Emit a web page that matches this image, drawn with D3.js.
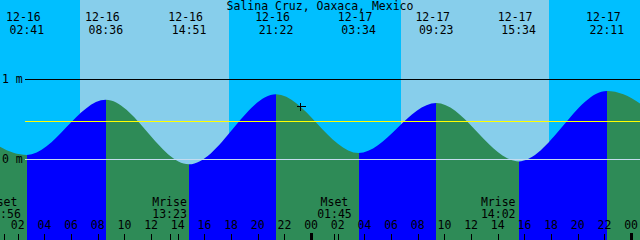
<!DOCTYPE html>
<html>
<head>
<meta charset="utf-8">
<script src="https://d3js.org/d3.v7.min.js"></script>
<style>
  html, body { margin: 0; padding: 0; background: #fff; }
  svg { display: block; }
  text { font-family: "DejaVu Sans Mono", monospace; font-size: 11.5px; fill: #000; }
  line, path.mark { shape-rendering: crispEdges; }
</style>
</head>
<body>
<svg width="640" height="240"></svg>
<script>
// chart data
var title = "Salina Cruz, Oaxaca, Mexico";
var startTime = "2019-12-16 00:40", endTime = "2019-12-18 00:40";

// high / low tides (first and last ones are just outside the window)
var tideTimes = ["2019-12-15 20:35", "2019-12-16 02:41", "2019-12-16 08:36", "2019-12-16 14:51",
                 "2019-12-16 21:22", "2019-12-17 03:34", "2019-12-17 09:23", "2019-12-17 15:34",
                 "2019-12-17 22:11", "2019-12-18 04:25"];
var tideHeights = [0.75, 0.05, 0.74, -0.066, 0.81, 0.075, 0.70, -0.03, 0.85, 0.10];

var sunTimes = ["2019-12-16 06:41", "2019-12-16 17:51", "2019-12-17 06:45", "2019-12-17 17:52"]; // rise, set, rise, set
var moonNames = ["Mset", "Mrise", "Mset", "Mrise"];
var moonTimes = ["2019-12-16 00:56", "2019-12-16 13:23", "2019-12-17 01:45", "2019-12-17 14:02"];

var levelValues = [1, 0];
var levelLabels = ["1 m", "0 m"];
var meanLevel = 0.48;

var nowTime = "2019-12-16 23:10";
var nowHeight = 0.66;

var parse = d3.timeParse("%Y-%m-%d %H:%M");
var svg = d3.select("svg");
var W = 640, H = 240;

var x = d3.scaleTime().domain([parse(startTime), parse(endTime)]).range([0, W]);
var y = d3.scaleLinear().domain([0, 1]).range([159, 79]);

var tides = tideTimes.map(function(t, i) { return { t: parse(t), h: tideHeights[i] }; });

// day / night bands
var edges = [parse(startTime)].concat(sunTimes.map(parse)).concat([parse(endTime)]);
var bands = [];
for (var i = 0; i < edges.length - 1; i++) bands.push({ a: edges[i], b: edges[i + 1], day: i % 2 == 1 });
svg.append("g").selectAll("rect").data(bands).enter().append("rect")
  .attr("x", function(d) { return x(d.a); })
  .attr("width", function(d) { return x(d.b) - x(d.a); })
  .attr("y", 0).attr("height", H)
  .attr("fill", function(d) { return d.day ? "#87ceeb" : "#00bfff"; })
  .attr("shape-rendering", "crispEdges");

// water under the curve, blue while rising, green while falling
var area = d3.area().curve(d3.curveMonotoneX)
  .x(function(d) { return x(d.t); })
  .y0(H)
  .y1(function(d) { return y(d.h); });
svg.append("clipPath").attr("id", "water").append("path").attr("d", area(tides));

var segs = [];
for (var i = 0; i < tides.length - 1; i++) segs.push({ a: tides[i].t, b: tides[i + 1].t, up: tides[i + 1].h > tides[i].h });
svg.append("g").attr("clip-path", "url(#water)")
  .selectAll("rect").data(segs).enter().append("rect")
  .attr("x", function(d) { return x(d.a); })
  .attr("width", function(d) { return x(d.b) - x(d.a); })
  .attr("y", 0).attr("height", H)
  .attr("fill", function(d) { return d.up ? "#0000ff" : "#2e8b57"; })
  .attr("shape-rendering", "crispEdges");

// level lines
svg.append("g").selectAll("line").data(levelValues).enter().append("line")
  .attr("x1", 25).attr("x2", W)
  .attr("y1", function(d) { return Math.round(y(d)) + 0.5; })
  .attr("y2", function(d) { return Math.round(y(d)) + 0.5; })
  .attr("stroke", function(d) { return d == 0 ? "#c4dcf0" : "#000"; });
svg.append("line")
  .attr("x1", 25).attr("x2", W)
  .attr("y1", Math.round(y(meanLevel)) + 0.5).attr("y2", Math.round(y(meanLevel)) + 0.5)
  .attr("stroke", "#ffff00").attr("stroke-width", 1.2);
svg.append("g").selectAll("text").data(levelValues).enter().append("text")
  .attr("x", 2)
  .attr("y", function(d) { return y(d) + 4; })
  .text(function(d, i) { return levelLabels[i]; });

// current time marker
var cx = Math.round(x(parse(nowTime))) + 0.5, cy = Math.round(y(nowHeight)) + 0.5;
svg.append("path").attr("class", "mark")
  .attr("d", "M" + (cx - 4) + "," + cy + "H" + (cx + 5) + "M" + cx + "," + (cy - 4) + "V" + (cy + 4))
  .attr("stroke", "#000");

// title
svg.append("text").attr("x", W / 2).attr("y", 9.5).attr("text-anchor", "middle").text(title);

// high / low labels
var shown = tides.filter(function(d) { return d.t >= x.domain()[0] && d.t <= x.domain()[1]; });
var ext = svg.append("g").selectAll("g").data(shown).enter().append("g");
ext.append("text")
  .attr("x", function(d) { return x(d.t) - 3.5; }).attr("y", 21)
  .attr("text-anchor", "middle")
  .text(function(d) { return d3.timeFormat("%m-%d")(d.t); });
ext.append("text")
  .attr("x", function(d) { return x(d.t); }).attr("y", 34)
  .attr("text-anchor", "middle")
  .text(function(d) { return d3.timeFormat("%H:%M")(d.t); });

// moon rise / set
var moons = moonTimes.map(function(t, i) { return { t: parse(t), name: moonNames[i] }; });
var mg = svg.append("g").selectAll("g").data(moons).enter().append("g");
mg.append("text")
  .attr("x", function(d) { return x(d.t); }).attr("y", 205.5)
  .attr("text-anchor", "middle")
  .text(function(d) { return d.name; });
mg.append("text")
  .attr("x", function(d) { return x(d.t); }).attr("y", 218)
  .attr("text-anchor", "middle")
  .text(function(d) { return d3.timeFormat("%H:%M")(d.t); });
mg.append("line")
  .attr("x1", function(d) { return Math.round(x(d.t)) + 0.5; })
  .attr("x2", function(d) { return Math.round(x(d.t)) + 0.5; })
  .attr("y1", 234).attr("y2", H)
  .attr("stroke", "#000");

// hour axis
var hours = x.ticks(d3.timeHour.every(2));
var hg = svg.append("g").selectAll("g").data(hours).enter().append("g");
hg.append("text")
  .attr("x", function(d) { return x(d); }).attr("y", 229)
  .attr("text-anchor", "middle")
  .text(d3.timeFormat("%H"));
hg.append("line")
  .attr("x1", function(d) { return Math.round(x(d)) + 0.5; })
  .attr("x2", function(d) { return Math.round(x(d)) + 0.5; })
  .attr("y1", function(d) { return d.getHours() == 0 ? 233 : 234; })
  .attr("y2", H)
  .attr("stroke", "#000")
  .attr("stroke-width", function(d) { return d.getHours() == 0 ? 3 : 1; });
</script>
</body>
</html>
